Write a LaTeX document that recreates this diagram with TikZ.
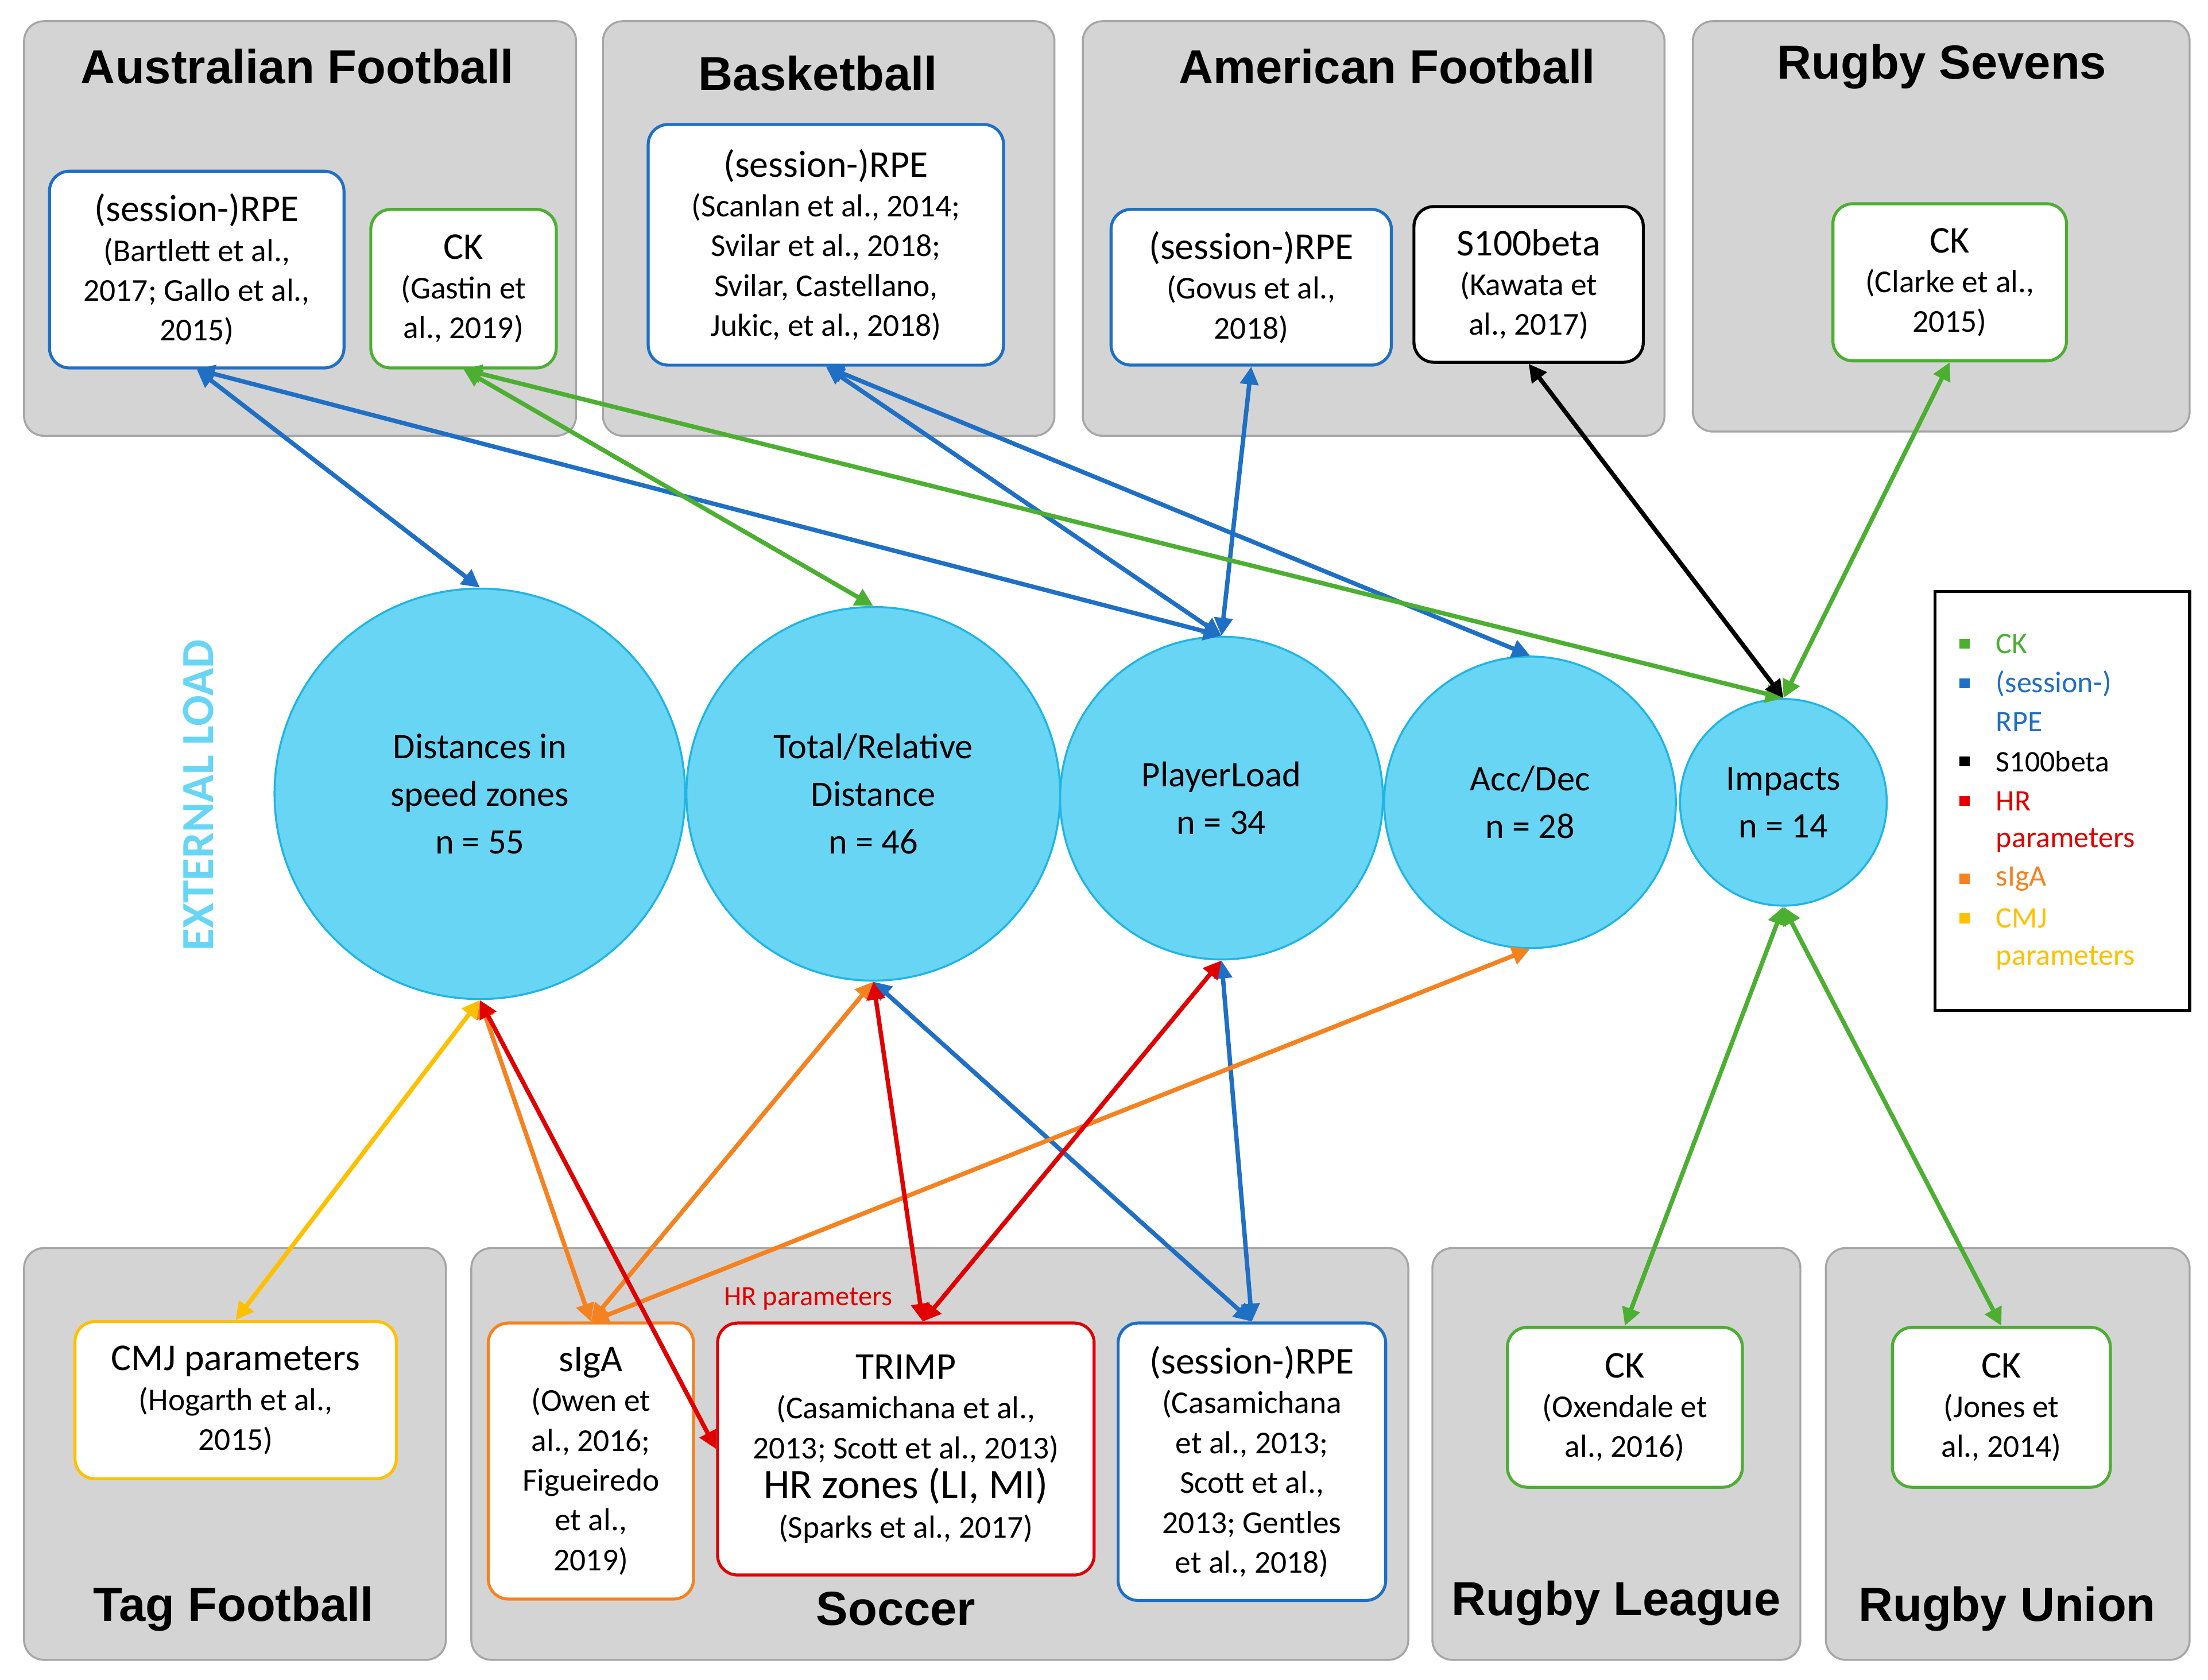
\documentclass[tikz,border=0pt]{standalone}
\usepackage{fontspec}
\setmainfont{Carlito}
\newfontfamily\titlefont{Liberation Sans}
\usetikzlibrary{arrows.meta}

\definecolor{ckgreen}{HTML}{4CAF32}
\definecolor{rpeblue}{HTML}{1F6FC5}
\definecolor{hrred}{HTML}{E00000}
\definecolor{igaorange}{HTML}{F58220}
\definecolor{cmjyellow}{HTML}{FFC000}
\definecolor{loadfill}{HTML}{69D5F5}
\definecolor{loadline}{HTML}{1FB5E5}
\definecolor{panelfill}{HTML}{D4D4D4}
\definecolor{panelline}{HTML}{A6A6A6}

\tikzset{
  panel/.style={draw=panelline, fill=panelfill, rounded corners=10pt, line width=1pt},
  sport/.style={font=\titlefont\fontsize{24}{28}\selectfont\bfseries},
  study/.style={draw=#1, fill=white, rounded corners=10pt, line width=1.5pt, align=center,
    font=\fontsize{16}{20}\selectfont, inner sep=2pt},
  load/.style={circle, draw=loadline, fill=loadfill, line width=1pt, align=center,
    font=\fontsize{18}{24}\selectfont, inner sep=0pt},
  link/.style={draw=#1, line width=2.2pt, {Triangle[length=9pt,width=9pt]}-{Triangle[length=9pt,width=9pt]}},
  key/.style={fill=#1, minimum size=5pt, inner sep=0pt},
  keytext/.style={anchor=west, text=#1, font=\fontsize{15}{19}\selectfont, inner sep=0pt}
}

\newcommand{\sesrpe}{{\fontsize{19}{22}\selectfont (session-)RPE}}

\begin{document}
\begin{tikzpicture}[x=0.025cm, y=-0.025cm]
    \useasboundingbox (0,0) rectangle (1560,1187);

    % Sport panels (top)
    \draw[panel] (17,15) rectangle (407,308);
    \draw[panel] (426,15) rectangle (745,308);
    \draw[panel] (765,15) rectangle (1176,308);
    \draw[panel] (1196,15) rectangle (1547,305);
    \node[sport] (tAF) at (210,47) {Australian Football};
    \node[sport] (tBB) at (578,52) {Basketball};
    \node[sport] (tAmF) at (980,47) {American Football};
    \node[sport] (tRS) at (1372,47) {Rugby Sevens};

    % Sport panels (bottom)
    \draw[panel] (17,882) rectangle (315,1173);
    \draw[panel] (333,882) rectangle (995,1173);
    \draw[panel] (1012,882) rectangle (1272,1173);
    \draw[panel] (1290,882) rectangle (1547,1173);
    \node[sport] (tTF) at (165,1137) {Tag Football};
    \node[sport] (tSO) at (633,1137) {Soccer};
    \node[sport] (tRL) at (1142,1133) {Rugby League};
    \node[sport] (tRU) at (1418,1137) {Rugby Union};

    % Studies
    \node[study=rpeblue, minimum width=5.2cm, minimum height=3.475cm] (afRPE) at (139,190.5)
      {\sesrpe\\(Bartlett et al.,\\2017; Gallo et al.,\\2015)};
    \node[study=ckgreen, minimum width=3.275cm, minimum height=2.8cm] (afCK) at (327.5,204)
      {{\fontsize{19}{22}\selectfont CK}\\(Gastin et\\al., 2019)};
    \node[study=rpeblue, minimum width=6.275cm, minimum height=4.25cm] (bbRPE) at (583.5,173)
      {\sesrpe\\(Scanlan et al., 2014;\\Svilar et al., 2018;\\Svilar, Castellano,\\Jukic, et al., 2018)};
    \node[study=rpeblue, minimum width=4.95cm, minimum height=2.75cm] (amRPE) at (884,203)
      {\sesrpe\\(Govus et al.,\\2018)};
    \node[study=black, minimum width=4.05cm, minimum height=2.75cm] (amS100) at (1080,201)
      {{\fontsize{19}{22}\selectfont S100beta}\\(Kawata et\\al., 2017)};
    \node[study=ckgreen, minimum width=4.125cm, minimum height=2.775cm] (rsCK) at (1377.5,199.5)
      {{\fontsize{19}{22}\selectfont CK}\\(Clarke et al.,\\2015)};
    \node[study=cmjyellow, minimum width=5.675cm, minimum height=2.775cm] (tfCMJ) at (166.5,989.5)
      {{\fontsize{19}{22}\selectfont CMJ parameters}\\(Hogarth et al.,\\2015)};
    \node[study=igaorange, minimum width=3.625cm, minimum height=4.875cm] (soIGA) at (417.5,1032.5)
      {{\fontsize{19}{22}\selectfont sIgA}\\(Owen et\\al., 2016;\\Figueiredo\\et al.,\\2019)};
    \node[study=hrred, minimum width=6.65cm, minimum height=4.45cm] (soTRIMP) at (640,1024)
      {{\fontsize{19}{22}\selectfont TRIMP}\\(Casamichana et al.,\\2013; Scott et al., 2013)\\
       {\fontsize{21}{24}\selectfont HR zones (LI, MI)}\\(Sparks et al., 2017)};
    \node[study=rpeblue, minimum width=4.725cm, minimum height=4.9cm] (soRPE) at (884.5,1033)
      {\sesrpe\\(Casamichana\\et al., 2013;\\Scott et al.,\\2013; Gentles\\et al., 2018)};
    \node[study=ckgreen, minimum width=4.15cm, minimum height=2.825cm] (rlCK) at (1148,994.5)
      {{\fontsize{19}{22}\selectfont CK}\\(Oxendale et\\al., 2016)};
    \node[study=ckgreen, minimum width=3.85cm, minimum height=2.825cm] (ruCK) at (1414,994.5)
      {{\fontsize{19}{22}\selectfont CK}\\(Jones et\\al., 2014)};
    \node[text=hrred, font=\fontsize{14}{16}\selectfont] (hrLabel) at (571,918) {HR parameters};

    % External load measures
    \node[load, minimum size=7.25cm] (dist) at (339,561) {Distances in\\speed zones\\n = 55};
    \node[load, minimum size=6.6cm] (total) at (617,561) {Total/Relative\\Distance\\n = 46};
    \node[load, minimum size=5.7cm] (plload) at (863,564) {PlayerLoad\\n = 34};
    \node[load, minimum size=5.15cm] (accdec) at (1081,567) {Acc/Dec\\n = 28};
    \node[load, minimum size=3.65cm] (impact) at (1260,567) {Impacts\\n = 14};
    \node[rotate=90, text=loadfill, font=\fontsize{23}{26}\selectfont\bfseries] (extLoad) at (140,562) {EXTERNAL LOAD};

    % Links
    \draw[link=rpeblue] (afRPE.south) -- (dist.north);
    \draw[link=rpeblue] (afRPE.south) -- (plload.north);
    \draw[link=rpeblue] (bbRPE.south) -- (plload.north);
    \draw[link=rpeblue] (bbRPE.south) -- (accdec.north);
    \draw[link=rpeblue] (amRPE.south) -- (plload.north);
    \draw[link=rpeblue] (soRPE.north) -- (plload.south);
    \draw[link=rpeblue] (soRPE.north) -- (total.south);
    \draw[link=ckgreen] (afCK.south) -- (total.north);
    \draw[link=ckgreen] (afCK.south) -- (impact.north);
    \draw[link=ckgreen] (rsCK.south) -- (impact.north);
    \draw[link=ckgreen] (rlCK.north) -- (impact.south);
    \draw[link=ckgreen] (ruCK.north) -- (impact.south);
    \draw[link=black] (amS100.south) -- (impact.north);
    \draw[link=cmjyellow] (tfCMJ.north) -- (dist.south);
    \draw[link=igaorange] (soIGA.north) -- (dist.south);
    \draw[link=igaorange] (soIGA.north) -- (total.south);
    \draw[link=igaorange] (soIGA.north) -- (accdec.south);
    \draw[link=hrred] (dist.south) -- (soTRIMP.west);
    \draw[link=hrred] ([xshift=0.3cm]soTRIMP.north) -- (total.south);
    \draw[link=hrred] ([xshift=0.3cm]soTRIMP.north) -- (plload.south);

    % Legend
    \draw[line width=1.5pt] (1367,418) rectangle (1547,714);
    \node[key=ckgreen] (k1) at (1388,455) {};
    \node[keytext=ckgreen] (l1) at (1410,455) {CK};
    \node[key=rpeblue] (k2) at (1388,483) {};
    \node[keytext=rpeblue] (l2) at (1410,483) {(session-)};
    \node[keytext=rpeblue] (l2b) at (1410,510) {RPE};
    \node[key=black] (k3) at (1388,538) {};
    \node[keytext=black] (l3) at (1410,538) {S100beta};
    \node[key=hrred] (k4) at (1388,566) {};
    \node[keytext=hrred] (l4) at (1410,566) {HR};
    \node[keytext=hrred] (l4b) at (1410,594) {parameters};
    \node[key=igaorange] (k5) at (1388,621) {};
    \node[keytext=igaorange] (l5) at (1410,621) {sIgA};
    \node[key=cmjyellow] (k6) at (1388,649) {};
    \node[keytext=cmjyellow] (l6) at (1410,649) {CMJ};
    \node[keytext=cmjyellow] (l6b) at (1410,677) {parameters};
\end{tikzpicture}
\end{document}
